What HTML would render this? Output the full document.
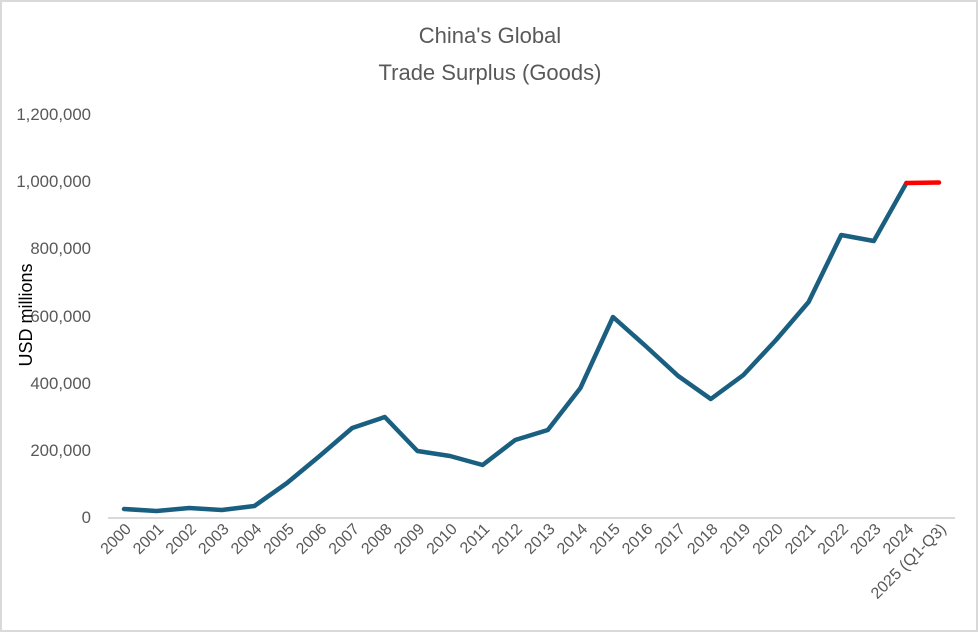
<!DOCTYPE html>
<html><head><style>
body{margin:0;background:#fff}
svg{display:block}
text{font-family:"Liberation Sans",sans-serif}
</style></head><body>
<svg width="979" height="633" viewBox="0 0 979 633">
<rect x="1" y="1" width="976" height="630" fill="#fff" stroke="#d9d9d9" stroke-width="2"/>
<text x="490" y="43" text-anchor="middle" font-size="22" fill="#595959">China's Global</text>
<text x="490" y="80" text-anchor="middle" font-size="22" fill="#595959">Trade Surplus (Goods)</text>
<g font-size="16.8" fill="#595959" text-anchor="end">
<text x="91" y="120">1,200,000</text>
<text x="91" y="187">1,000,000</text>
<text x="91" y="254">800,000</text>
<text x="91" y="322">600,000</text>
<text x="91" y="389">400,000</text>
<text x="91" y="456">200,000</text>
<text x="91" y="523">0</text>
</g>
<text transform="translate(32,315) rotate(-90)" text-anchor="middle" font-size="18" fill="#000">USD millions</text>
<line x1="108" y1="518" x2="955" y2="518" stroke="#d9d9d9" stroke-width="2"/>
<polyline fill="none" stroke="#1a5f80" stroke-width="4.5" stroke-linejoin="round" stroke-linecap="round"
points="124,509 156.6,511 189.2,508 221.8,510 254.4,506 287,483 319.6,456 352.2,428 384.8,417 417.4,451 450,456 482.6,465 515.2,440 547.8,430 580.4,388 613,317 645.6,346 678.2,376 710.8,399 743.4,375 776,340 808.6,302 841.2,235 873.8,241 906.4,183"/>
<line x1="906.4" y1="183" x2="939" y2="182.5" stroke="#ff0000" stroke-width="4.5" stroke-linecap="round"/>
<g font-size="16" fill="#595959" text-anchor="end">
<text transform="translate(132,530) rotate(-45)">2000</text>
<text transform="translate(164.6,530) rotate(-45)">2001</text>
<text transform="translate(197.2,530) rotate(-45)">2002</text>
<text transform="translate(229.8,530) rotate(-45)">2003</text>
<text transform="translate(262.4,530) rotate(-45)">2004</text>
<text transform="translate(295,530) rotate(-45)">2005</text>
<text transform="translate(327.6,530) rotate(-45)">2006</text>
<text transform="translate(360.2,530) rotate(-45)">2007</text>
<text transform="translate(392.8,530) rotate(-45)">2008</text>
<text transform="translate(425.4,530) rotate(-45)">2009</text>
<text transform="translate(458,530) rotate(-45)">2010</text>
<text transform="translate(490.6,530) rotate(-45)">2011</text>
<text transform="translate(523.2,530) rotate(-45)">2012</text>
<text transform="translate(555.8,530) rotate(-45)">2013</text>
<text transform="translate(588.4,530) rotate(-45)">2014</text>
<text transform="translate(621,530) rotate(-45)">2015</text>
<text transform="translate(653.6,530) rotate(-45)">2016</text>
<text transform="translate(686.2,530) rotate(-45)">2017</text>
<text transform="translate(718.8,530) rotate(-45)">2018</text>
<text transform="translate(751.4,530) rotate(-45)">2019</text>
<text transform="translate(784,530) rotate(-45)">2020</text>
<text transform="translate(816.6,530) rotate(-45)">2021</text>
<text transform="translate(849.2,530) rotate(-45)">2022</text>
<text transform="translate(881.8,530) rotate(-45)">2023</text>
<text transform="translate(914.4,530) rotate(-45)">2024</text>
<text transform="translate(947,530) rotate(-45)">2025 (Q1-Q3)</text>
</g>
</svg>
</body></html>
